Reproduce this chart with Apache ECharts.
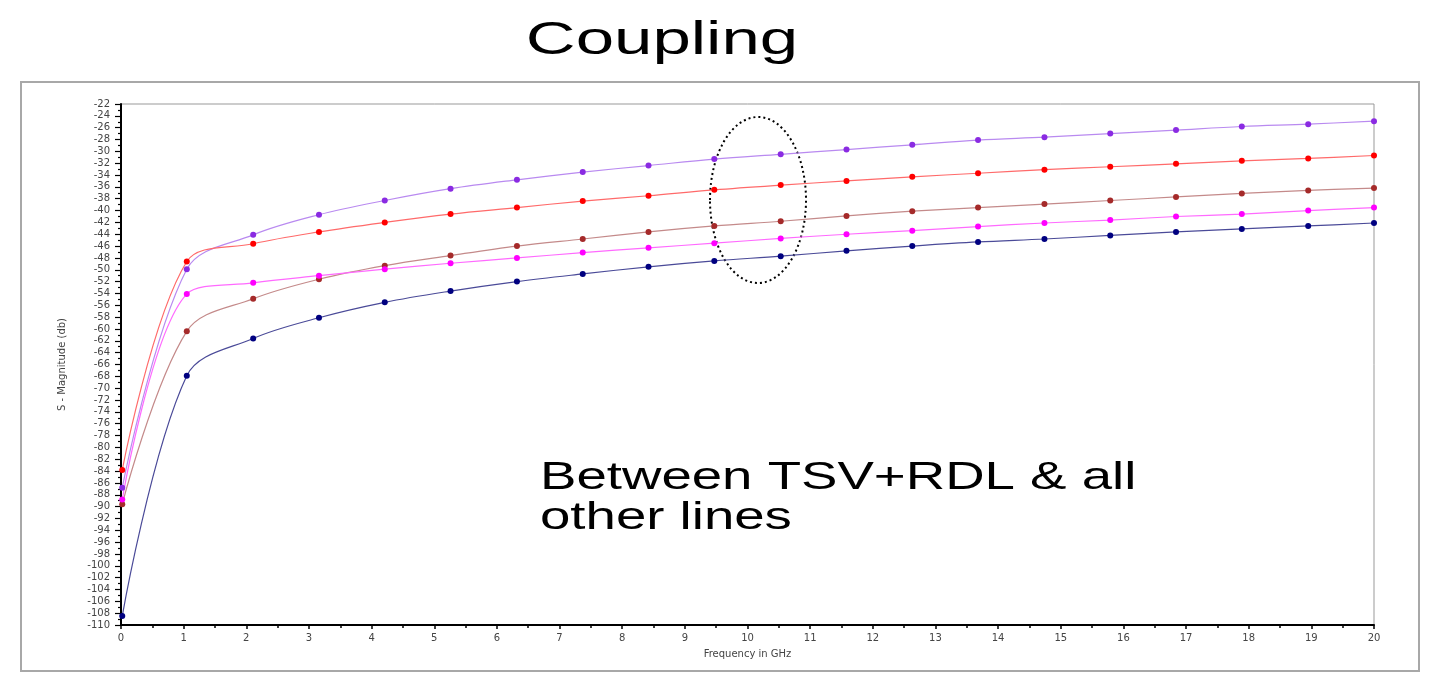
<!DOCTYPE html>
<html>
<head>
<meta charset="utf-8">
<title>Coupling</title>
<script src="https://cdn.jsdelivr.net/npm/echarts@6/dist/echarts.min.js"></script>
<style>
  html, body { margin: 0; padding: 0; background: #fff; }
  #main { width: 1454px; height: 691px; }
</style>
</head>
<body>
<div id="main"></div>
<script>
// frequency points (GHz)
var freq = [0.02, 1.05, 2.11, 3.16, 4.21, 5.26, 6.32, 7.37, 8.42, 9.47, 10.53, 11.58, 12.63, 13.68, 14.74, 15.79, 16.84, 17.89, 18.95, 20];

// S-magnitude (db) per line
var purpleVals = [-86.8, -49.9, -44.1, -40.7, -38.3, -36.3, -34.8, -33.5, -32.4, -31.3, -30.5, -29.7, -28.9, -28.1, -27.6, -27.0, -26.4, -25.8, -25.4, -24.9];
var redVals = [-83.8, -48.6, -45.6, -43.6, -42.0, -40.6, -39.5, -38.4, -37.5, -36.5, -35.7, -35.0, -34.3, -33.7, -33.1, -32.6, -32.1, -31.6, -31.2, -30.7];
var brownVals = [-89.6, -60.4, -54.9, -51.6, -49.3, -47.6, -46.0, -44.8, -43.6, -42.6, -41.8, -40.9, -40.1, -39.5, -38.9, -38.3, -37.7, -37.1, -36.6, -36.2];
var magentaVals = [-88.8, -54.1, -52.2, -51.0, -49.9, -48.9, -48.0, -47.1, -46.3, -45.5, -44.7, -44.0, -43.4, -42.7, -42.1, -41.6, -41.0, -40.6, -40.0, -39.5];
var navyVals = [-108.5, -67.9, -61.6, -58.1, -55.5, -53.6, -52.0, -50.7, -49.5, -48.5, -47.7, -46.8, -46.0, -45.3, -44.8, -44.2, -43.6, -43.1, -42.6, -42.1];

var titleText = 'Coupling';
var noteLines = ['Between TSV+RDL & all', 'other lines'];

function pairs(vals) {
	var out = [];
	for (var i = 0; i < freq.length; i++) {
		out.push([freq[i], vals[i]]);
	}
	return out;
}

function makeLine(name, vals, lineColor, dotColor) {
	return {
		name: name,
		type: 'line',
		smooth: 0.35,
		data: pairs(vals),
		symbol: 'circle',
		symbolSize: 6,
		lineStyle: { color: lineColor, width: 1.2 },
		itemStyle: { color: dotColor },
		emphasis: { disabled: true }
	};
}

var myChart = echarts.init(document.getElementById('main'));

var option = {
	animation: false,
	backgroundColor: '#fff',
	grid: {
		left: 121,
		right: 80,
		top: 104,
		bottom: 66,
		show: true,
		borderColor: '#999',
		borderWidth: 1
	},
	xAxis: {
		type: 'value',
		min: 0,
		max: 20,
		interval: 1,
		name: 'Frequency in GHz',
		nameLocation: 'middle',
		nameGap: 24,
		nameTextStyle: { fontSize: 10, color: '#444', fontFamily: 'DejaVu Sans' },
		axisLine: { lineStyle: { color: '#000', width: 2 } },
		axisTick: { length: 4, lineStyle: { color: '#000', width: 1.5 } },
		minorTick: { show: true, splitNumber: 2, length: 3, lineStyle: { color: '#000', width: 1.5 } },
		axisLabel: { fontSize: 10, color: '#444', fontFamily: 'DejaVu Sans', margin: 8 },
		splitLine: { show: false }
	},
	yAxis: {
		type: 'value',
		min: -110,
		max: -22,
		interval: 2,
		name: 'S - Magnitude (db)',
		nameLocation: 'middle',
		nameGap: 54,
		nameTextStyle: { fontSize: 10, color: '#444', fontFamily: 'Liberation Sans Narrow, DejaVu Sans' },
		axisLine: { lineStyle: { color: '#000', width: 2 } },
		axisTick: { length: 6, lineStyle: { color: '#000', width: 1.2 } },
		minorTick: { show: true, splitNumber: 2, length: 3, lineStyle: { color: '#000', width: 1.2 } },
		axisLabel: { fontSize: 10, color: '#444', fontFamily: 'DejaVu Sans', margin: 11 },
		splitLine: { show: false }
	},
	series: [
		makeLine('purple', purpleVals, '#b98af0', '#8a2be2'),
		makeLine('red', redVals, '#ff6a6a', '#ff0000'),
		makeLine('brown', brownVals, '#c48a8a', '#a52a2a'),
		makeLine('magenta', magentaVals, '#ff6aff', '#ff00ff'),
		makeLine('navy', navyVals, '#4a4a98', '#000080')
	],
	graphic: [
		{
			type: 'rect',
			shape: { x: 21, y: 82, width: 1398, height: 589 },
			style: { fill: 'none', stroke: '#a8a8a8', lineWidth: 2 },
			silent: true
		},
		{
			type: 'text',
			x: 662,
			y: 41,
			scaleX: 1.5,
			style: {
				text: titleText,
				fontSize: 46,
				fontFamily: 'Liberation Sans',
				fill: '#000',
				align: 'center',
				verticalAlign: 'middle'
			}
		},
		{
			type: 'text',
			x: 540,
			y: 478,
			scaleX: 1.4,
			style: {
				text: noteLines[0],
				fontSize: 39,
				fontFamily: 'Liberation Sans',
				fill: '#000',
				align: 'left',
				verticalAlign: 'middle'
			}
		},
		{
			type: 'text',
			x: 540,
			y: 518,
			scaleX: 1.4,
			style: {
				text: noteLines[1],
				fontSize: 39,
				fontFamily: 'Liberation Sans',
				fill: '#000',
				align: 'left',
				verticalAlign: 'middle'
			}
		},
		{
			type: 'ellipse',
			shape: { cx: 758, cy: 200, rx: 48, ry: 83 },
			style: { fill: 'none', stroke: '#000', lineWidth: 2, lineDash: [2, 3] },
			silent: true
		}
	]
};

myChart.setOption(option);
</script>
</body>
</html>
